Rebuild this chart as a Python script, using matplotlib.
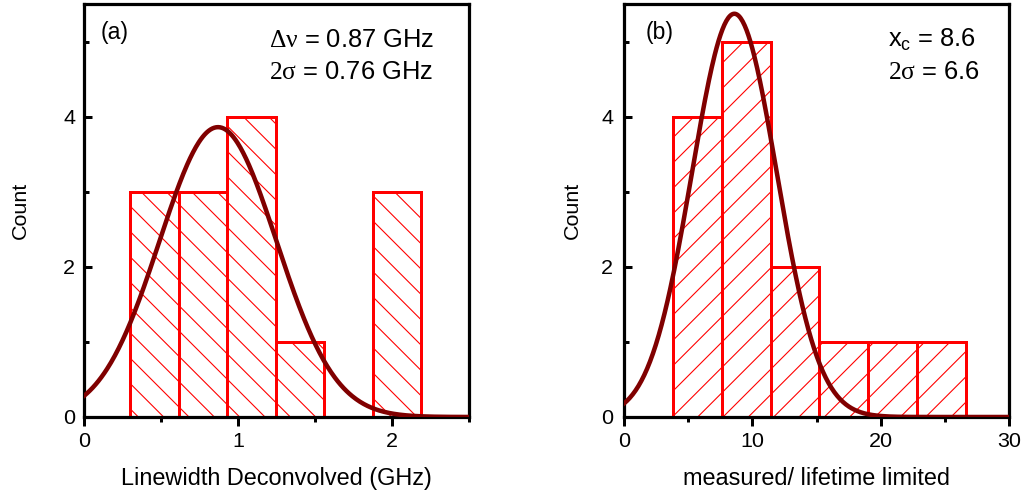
import numpy as np
import matplotlib
matplotlib.use('Agg')
import matplotlib.pyplot as plt

# histogram (a): linewidth deconvolved, GHz
lw_edges = [0.30, 0.615, 0.93, 1.245, 1.56, 1.875]
lw_width = 0.315
lw_counts = [3, 3, 4, 1, 0, 3]
lw_xc, lw_w, lw_amp = 0.87, 0.76, 3.86

# histogram (b): measured / lifetime limited
ratio_edges = [3.80, 7.61, 11.42, 15.23, 19.04, 22.85]
ratio_width = 3.81
ratio_counts = [4, 5, 2, 1, 1, 1]
ratio_xc, ratio_w, ratio_amp = 8.6, 6.6, 5.37

DPI = 76
PT = 72.0 / DPI   # pixel -> point

plt.rcParams['font.family'] = ['Liberation Sans', 'DejaVu Sans']
plt.rcParams['mathtext.fontset'] = 'custom'
plt.rcParams['mathtext.rm'] = 'Liberation Serif'
plt.rcParams['mathtext.it'] = 'Liberation Serif:italic'
plt.rcParams['hatch.linewidth'] = 1.1 * PT
plt.rcParams['hatch.color'] = 'red'

TICK_PX = 21.5
XLAB_PX = 23.5
NOTE_PX = 25.5


def gauss(x, xc, w, amp):
    # Origin-style Gaussian, w = 2 sigma
    return amp * np.exp(-2 * (x - xc) ** 2 / w ** 2)


fig = plt.figure(figsize=(1027 / DPI, 498 / DPI), dpi=DPI)
ax1 = fig.add_axes([84 / 1027, 81 / 498, 385 / 1027, 413 / 498])
ax2 = fig.add_axes([624 / 1027, 81 / 498, 385 / 1027, 413 / 498])


def style(ax, xmax, xmajor, xminor, xlabel, ypad, ylabpad):
    ax.set_xlim(0, xmax)
    ax.set_ylim(0, 5.5)
    ax.set_xticks(xmajor)
    ax.set_xticks(xminor, minor=True)
    ax.set_yticks([0, 2, 4])
    ax.set_yticks([1, 3, 5], minor=True)
    for s in ax.spines.values():
        s.set_linewidth(3.2 * PT)
    ax.tick_params(axis='x', which='major', direction='out', length=9 * PT,
                   width=3 * PT, labelsize=TICK_PX * PT, pad=6 * PT)
    ax.tick_params(axis='x', which='minor', direction='out', length=5 * PT,
                   width=3 * PT)
    ax.tick_params(axis='y', which='major', direction='in', length=8 * PT,
                   width=3 * PT, labelsize=TICK_PX * PT, pad=ypad * PT)
    ax.tick_params(axis='y', which='minor', direction='in', length=5 * PT,
                   width=3 * PT)
    ax.set_xlabel(xlabel, fontsize=XLAB_PX * PT, labelpad=16 * PT)
    ax.set_ylabel('Count', family=['Liberation Sans Narrow', 'Liberation Sans'],
                  fontsize=21.5 * PT, labelpad=ylabpad * PT)


ax1.bar(lw_edges, lw_counts, width=lw_width, align='edge', facecolor='none',
        edgecolor='red', linewidth=3 * PT, hatch='\\', zorder=2)
x1 = np.linspace(0, 2.5, 400)
ax1.plot(x1, gauss(x1, lw_xc, lw_w, lw_amp), color='#800000', lw=4.5 * PT, zorder=3)
style(ax1, 2.5, [0, 1, 2], [0.5, 1.5, 2.5], 'Linewidth Deconvolved (GHz)', 9, 33)
ax1.text(0.042, 0.93, '(a)', transform=ax1.transAxes, fontsize=23 * PT, va='center')
ax1.text(0.48, 0.913, r'$\mathrm{\Delta\nu}$ = 0.87 GHz', transform=ax1.transAxes,
         fontsize=NOTE_PX * PT, va='center')
ax1.text(0.48, 0.835, r'$\mathrm{2\sigma}$ = 0.76 GHz', transform=ax1.transAxes,
         fontsize=NOTE_PX * PT, va='center')

ax2.bar(ratio_edges, ratio_counts, width=ratio_width, align='edge', facecolor='none',
        edgecolor='red', linewidth=3 * PT, hatch='/', zorder=2)
x2 = np.linspace(0, 30, 400)
ax2.plot(x2, gauss(x2, ratio_xc, ratio_w, ratio_amp), color='#800000', lw=4.5 * PT, zorder=3)
style(ax2, 30, [0, 10, 20, 30], [5, 15, 25], 'measured/ lifetime limited', 11, 19)
ax2.text(0.055, 0.93, '(b)', transform=ax2.transAxes, fontsize=23 * PT, va='center')
ax2.text(0.686, 0.913, r'$\mathregular{x_c}$ = 8.6', transform=ax2.transAxes,
         fontsize=NOTE_PX * PT, va='center')
ax2.text(0.686, 0.835, r'$\mathrm{2\sigma}$ = 6.6', transform=ax2.transAxes,
         fontsize=NOTE_PX * PT, va='center')

fig.savefig('out.png', dpi=DPI)
